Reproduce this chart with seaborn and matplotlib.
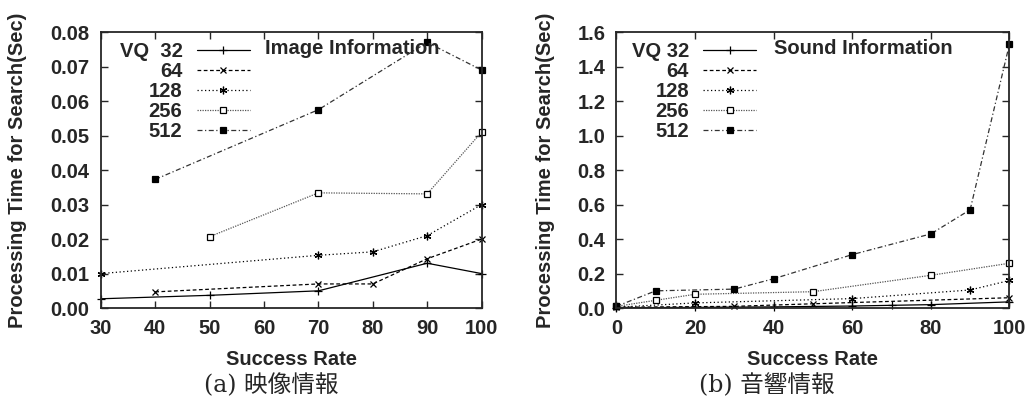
import matplotlib
matplotlib.use("Agg")
import matplotlib.pyplot as plt
import pandas as pd
import seaborn as sns

# Image information (left panel)
img_x_32 = [30, 50, 70, 90, 100]
img_y_32 = [0.0027, 0.0037, 0.005, 0.013, 0.010]
img_x_64 = [40, 70, 80, 90, 100]
img_y_64 = [0.0047, 0.007, 0.007, 0.0143, 0.020]
img_x_128 = [30, 70, 80, 90, 100]
img_y_128 = [0.010, 0.0153, 0.0163, 0.021, 0.030]
img_x_256 = [50, 70, 90, 100]
img_y_256 = [0.0207, 0.0334, 0.0331, 0.051]
img_x_512 = [40, 70, 90, 100]
img_y_512 = [0.0373, 0.0575, 0.077, 0.069]

# Sound information (right panel)
snd_x_32 = [0, 20, 40, 60, 70, 80, 100]
snd_y_32 = [0.002, 0.004, 0.007, 0.012, 0.016, 0.02, 0.036]
snd_x_64 = [0, 30, 50, 100]
snd_y_64 = [0.005, 0.01, 0.025, 0.06]
snd_x_128 = [0, 20, 60, 90, 100]
snd_y_128 = [0.005, 0.03, 0.055, 0.105, 0.16]
snd_x_256 = [0, 10, 20, 50, 80, 100]
snd_y_256 = [0.01, 0.045, 0.08, 0.095, 0.19, 0.26]
snd_x_512 = [0, 10, 30, 40, 60, 80, 90, 100]
snd_y_512 = [0.01, 0.10, 0.11, 0.17, 0.31, 0.43, 0.57, 1.53]

img_labels = ["VQ  32", "64", "128", "256", "512"]
snd_labels = ["VQ 32", "64", "128", "256", "512"]

styles = [
    dict(color="black", linestyle="-", marker="+", markersize=6),
    dict(color="black", linestyle=(0, (3, 2)), marker="x", markersize=4.5),
    dict(color="black", linestyle=(0, (1, 2)), marker=(6, 2, 0), markersize=5.5),
    dict(color="#555555", linestyle=(0, (1, 1)), marker="s", markersize=4.5,
         markerfacecolor="white"),
    dict(color="#333333", linestyle=(0, (4, 2, 1, 2)), marker="s", markersize=4.5,
         markerfacecolor="black"),
]

FS = 14.5

sns.set_style("ticks")
plt.rcParams["font.family"] = ["Liberation Sans", "Noto Sans CJK JP"]
plt.rcParams["font.weight"] = "bold"
plt.rcParams["axes.linewidth"] = 1.3

fig, axes = plt.subplots(1, 2, figsize=(10.29, 3.96), dpi=100)
axes[0].set_position([0.098, 0.222, 0.370, 0.697])
axes[1].set_position([0.599, 0.222, 0.382, 0.697])

panels = [
    (axes[0], img_labels, 0.418, -0.218,
     [(img_x_32, img_y_32), (img_x_64, img_y_64), (img_x_128, img_y_128),
      (img_x_256, img_y_256), (img_x_512, img_y_512)]),
    (axes[1], snd_labels, 0.382, -0.181,
     [(snd_x_32, snd_y_32), (snd_x_64, snd_y_64), (snd_x_128, snd_y_128),
      (snd_x_256, snd_y_256), (snd_x_512, snd_y_512)]),
]

for ax, labels, leg_x, ylab_x, series in panels:
    for (xs, ys), lab, st in zip(series, labels, styles):
        df = pd.DataFrame({"rate": xs, "time": ys})
        sns.lineplot(data=df, x="rate", y="time", ax=ax, label=lab, lw=0.9,
                     markeredgecolor="black", markeredgewidth=0.9, clip_on=False, **st)
    ax.tick_params(direction="in", top=True, right=True, length=5, labelsize=FS,
                   width=1, pad=8)
    ax.set_xlabel("Success Rate", fontsize=FS, fontweight="bold")
    ax.set_ylabel("Processing Time for Search(Sec)", fontsize=FS, fontweight="bold")
    ax.xaxis.set_label_coords(0.5, -0.188)
    ax.xaxis.label.set_va("center")
    ax.yaxis.set_label_coords(ylab_x, 0.5)
    ax.yaxis.label.set_va("center")
    leg = ax.legend(loc="upper right", bbox_to_anchor=(leg_x, 1.0), frameon=False,
                    markerfirst=False, handlelength=2.65, handletextpad=0.7,
                    labelspacing=0.05, borderpad=0.0, fontsize=FS)
    for col in leg._legend_handle_box.get_children():
        col.align = "right"
    for t in leg.get_texts():
        t.set_fontweight("bold")

ax = axes[0]
ax.set_xlim(30, 100)
ax.set_ylim(0, 0.08)
ax.set_xticks(range(30, 101, 10))
ax.set_yticks([0.0, 0.01, 0.02, 0.03, 0.04, 0.05, 0.06, 0.07, 0.08])
ax.set_yticklabels([f"{v:.2f}" for v in ax.get_yticks()])
ax.text(0.43, 0.942, "Image Information", transform=ax.transAxes, fontsize=FS,
        fontweight="bold", va="center")

ax = axes[1]
ax.set_xlim(0, 100)
ax.set_ylim(0, 1.6)
ax.set_xticks(range(0, 101, 20))
ax.set_yticks([0.0, 0.2, 0.4, 0.6, 0.8, 1.0, 1.2, 1.4, 1.6])
ax.set_yticklabels([f"{v:.1f}" for v in ax.get_yticks()])
ax.text(0.40, 0.942, "Sound Information", transform=ax.transAxes, fontsize=FS,
        fontweight="bold", va="center")

cap_font = ["DejaVu Serif", "Noto Sans CJK JP"]
fig.text(0.264, 0.026, "(a) 映像情報", ha="center", va="center", fontsize=17,
         family=cap_font, fontweight="normal")
fig.text(0.745, 0.026, "(b) 音響情報", ha="center", va="center", fontsize=17,
         family=cap_font, fontweight="normal")

fig.savefig("out.png", dpi=100)
